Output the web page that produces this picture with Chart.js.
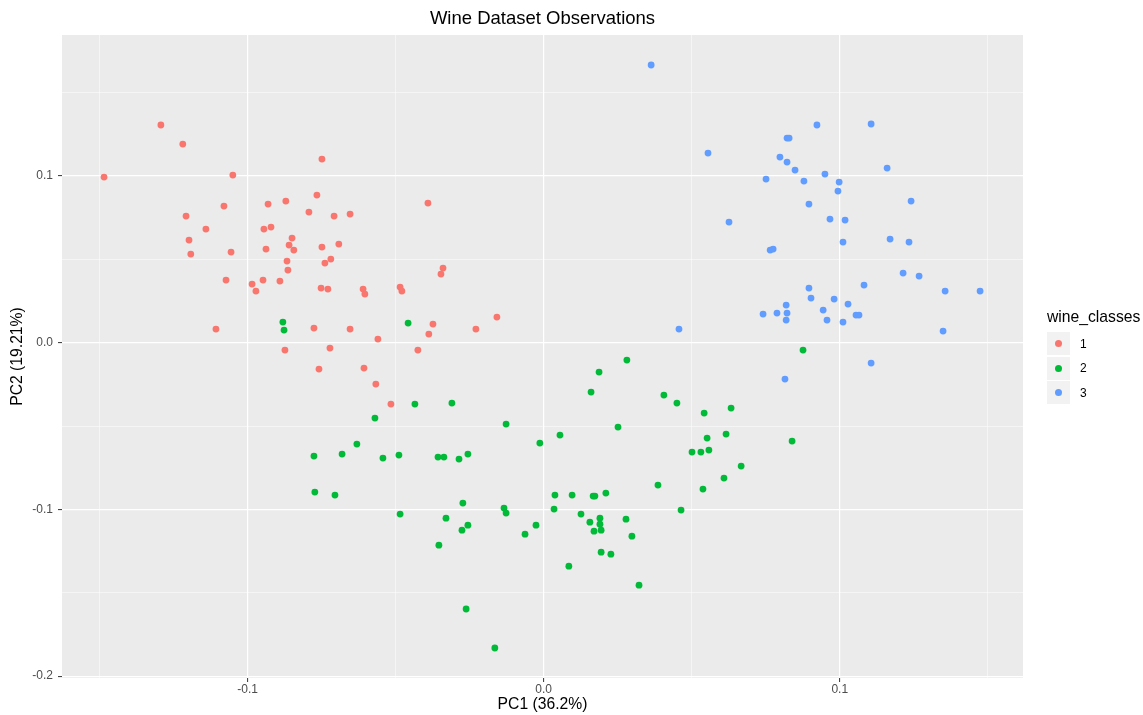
<!DOCTYPE html>
<html>
<head>
<meta charset="utf-8">
<script src="https://cdn.jsdelivr.net/npm/chart.js@4/dist/chart.umd.min.js"></script>
<style>
  body { margin: 0; background: #fff; font-family: "Liberation Sans", Arial, Helvetica, sans-serif; }
  #wrap { position: relative; width: 1143px; height: 715px; }
  #chart { position: absolute; left: 0; top: 0; }
  #title { position: absolute; left: 62px; width: 961px; top: 7px; height: 22px; line-height: 22px;
           text-align: center; font-size: 18.5px; color: #000; }
  #legend { position: absolute; left: 1047px; top: 306px; color: #000; }
  #legend .ttl { font-size: 15.7px; height: 22px; line-height: 22px; margin-bottom: 4px; }
  #legend .row { height: 23px; margin-bottom: 1.5px; display: flex; align-items: center; }
  #legend .key { width: 23px; height: 23px; background: #F2F2F2; position: relative; }
  #legend .dot { position: absolute; left: 8px; top: 8px; width: 7px; height: 7px; border-radius: 50%; }
  #legend .lab { font-size: 12px; margin-left: 10px; }
</style>
</head>
<body>
<div id="wrap">
  <canvas id="chart" width="1085" height="715"></canvas>
  <div id="title">Wine Dataset Observations</div>
  <div id="legend"></div>
</div>
<script>
// wine_classes 1, 2, 3 : PC1 / PC2 scores
let class1X = [-0.1485, -0.1293, -0.1219, -0.1208, -0.1198, -0.1192, -0.1141, -0.1080, -0.1050, -0.1056,
    -0.1107, -0.1073, -0.0985, -0.0972, -0.0948, -0.0945, -0.0931, -0.0921, -0.0938, -0.0891,
    -0.0871, -0.0867, -0.0864, -0.0860, -0.0850, -0.0844, -0.0874, -0.0793, -0.0766, -0.0749,
    -0.0749, -0.0739, -0.0719, -0.0708, -0.0692, -0.0654, -0.0752, -0.0729, -0.0776, -0.0654,
    -0.0722, -0.0759, -0.0610, -0.0604, -0.0607, -0.0560, -0.0567, -0.0516, -0.0485, -0.0479,
    -0.0391, -0.0340, -0.0347, -0.0374, -0.0388, -0.0425, -0.0229, -0.0158];
let class1Y = [0.0994, 0.1306, 0.1192, 0.0760, 0.0616, 0.0532, 0.0682, 0.0820, 0.1006, 0.0544,
    0.0082, 0.0376, 0.0352, 0.0310, 0.0376, 0.0682, 0.0832, 0.0694, 0.0562, 0.0370,
    0.0850, 0.0490, 0.0436, 0.0586, 0.0628, 0.0556, -0.0044, 0.0784, 0.0886, 0.1102,
    0.0574, 0.0478, 0.0502, 0.0760, 0.0592, 0.0772, 0.0328, 0.0322, 0.0088, 0.0082,
    -0.0032, -0.0158, 0.0322, 0.0292, -0.0152, 0.0022, -0.0248, -0.0368, 0.0334, 0.0310,
    0.0838, 0.0448, 0.0412, 0.0112, 0.0052, -0.0044, 0.0082, 0.0154];

let class2X = [-0.0881, -0.0877, -0.0458, -0.0435, -0.0310, -0.0570, -0.0127, -0.0631, -0.0776, -0.0681,
    -0.0543, -0.0489, -0.0357, -0.0337, -0.0286, -0.0256, -0.0773, -0.0705, -0.0273, -0.0485,
    -0.0330, -0.0256, -0.0276, -0.0134, -0.0127, -0.0354, -0.0262, -0.0165, 0.0281, 0.0187,
    0.0160, 0.0406, 0.0450, 0.0542, 0.0633, 0.0251, 0.0055, -0.0013, 0.0616, 0.0552,
    0.0501, 0.0531, 0.0558, 0.0667, 0.0609, 0.0386, 0.0538, 0.0038, 0.0096, 0.0167,
    0.0173, 0.0210, 0.0035, 0.0464, 0.0126, 0.0156, 0.0190, 0.0190, 0.0170, 0.0194,
    0.0278, 0.0298, -0.0026, -0.0063, 0.0194, 0.0227, 0.0085, 0.0322, 0.0876, 0.0839];
let class2Y = [0.0124, 0.0076, 0.0118, -0.0368, -0.0362, -0.0452, -0.0488, -0.0608, -0.0680, -0.0668,
    -0.0692, -0.0674, -0.0686, -0.0686, -0.0698, -0.0668, -0.0896, -0.0914, -0.0962, -0.1028,
    -0.1052, -0.1094, -0.1124, -0.0992, -0.1022, -0.1214, -0.1597, -0.1831, -0.0104, -0.0176,
    -0.0296, -0.0314, -0.0362, -0.0422, -0.0392, -0.0506, -0.0554, -0.0602, -0.0548, -0.0572,
    -0.0656, -0.0656, -0.0644, -0.0740, -0.0812, -0.0854, -0.0878, -0.0914, -0.0914, -0.0920,
    -0.0920, -0.0902, -0.0998, -0.1004, -0.1028, -0.1076, -0.1052, -0.1088, -0.1130, -0.1124,
    -0.1058, -0.1160, -0.1094, -0.1148, -0.1256, -0.1268, -0.1340, -0.1454, -0.0044, -0.0590];

let class3X = [0.0363, 0.0555, 0.0626, 0.0457, 0.0923, 0.1106, 0.0822, 0.0829, 0.0798, 0.0822,
    0.0849, 0.0751, 0.0879, 0.0950, 0.0998, 0.0994, 0.1160, 0.0896, 0.0967, 0.1018,
    0.1241, 0.1011, 0.1170, 0.1234, 0.0765, 0.0775, 0.1214, 0.1268, 0.1082, 0.1356,
    0.1474, 0.0896, 0.0903, 0.0981, 0.1028, 0.0819, 0.0741, 0.0788, 0.0822, 0.0819,
    0.0944, 0.0957, 0.1011, 0.1055, 0.1065, 0.1349, 0.1106, 0.0815];
let class3Y = [0.1666, 0.1138, 0.0724, 0.0082, 0.1306, 0.1312, 0.1228, 0.1228, 0.1114, 0.1084,
    0.1036, 0.0982, 0.0970, 0.1012, 0.0964, 0.0910, 0.1048, 0.0832, 0.0742, 0.0736,
    0.0850, 0.0604, 0.0622, 0.0604, 0.0556, 0.0562, 0.0418, 0.0400, 0.0346, 0.0310,
    0.0310, 0.0328, 0.0268, 0.0262, 0.0232, 0.0226, 0.0172, 0.0178, 0.0178, 0.0136,
    0.0196, 0.0136, 0.0124, 0.0166, 0.0166, 0.0070, -0.0122, -0.0218];

let classNames = ['1', '2', '3'];
let classColors = ['#F8766D', '#00BA38', '#619CFF'];
let xTicks = [-0.15, -0.1, -0.05, 0, 0.05, 0.1, 0.15];
let yTicks = [-0.2, -0.15, -0.1, -0.05, 0, 0.05, 0.1, 0.15];

const FONT = '"Liberation Sans", Arial, Helvetica, sans-serif';

function pts(xs, ys) {
    return xs.map((x, i) => ({ x: x, y: ys[i] }));
}

function isMajor(v) {
    return Math.abs(v * 10 - Math.round(v * 10)) < 1e-6;
}

const panelBg = {
    id: 'panelBg',
    beforeDraw(chart) {
        const a = chart.chartArea;
        const ctx = chart.ctx;
        ctx.save();
        ctx.fillStyle = '#EBEBEB';
        ctx.fillRect(a.left, a.top, a.right - a.left, a.bottom - a.top);
        ctx.restore();
    }
};

function axis(ticks, min, max, title, titlePad) {
    return {
        type: 'linear',
        min: min,
        max: max,
        afterBuildTicks: (s) => { s.ticks = ticks.map(v => ({ value: v })); },
        grid: {
            color: '#FFFFFF',
            lineWidth: (c) => isMajor(c.tick.value) ? 1.2 : 0.5,
            drawTicks: true,
            tickLength: 4,
            tickWidth: 1,
            tickColor: (c) => isMajor(c.tick.value) ? '#333333' : 'rgba(0,0,0,0)'
        },
        border: { display: false },
        ticks: {
            color: '#4D4D4D',
            font: { family: FONT, size: 12 },
            padding: 0,
            autoSkip: false,
            maxRotation: 0,
            callback: (v) => isMajor(v) ? v.toFixed(1) : ''
        },
        title: {
            display: true,
            text: title,
            color: '#000000',
            font: { family: FONT, size: 15.7 },
            padding: titlePad
        }
    };
}

let xAxis = axis(xTicks, -0.1627, 0.1619, 'PC1 (36.2%)', { top: 0, bottom: 0.5 });
xAxis.afterFit = (s) => { s.height = 37; };
let yAxis = axis(yTicks, -0.2011, 0.1846, 'PC2 (19.21%)', { top: 8.5, bottom: 0 });
yAxis.afterFit = (s) => { s.width = 62; };
yAxis.ticks.padding = 5;

let chart = new Chart(document.getElementById('chart'), {
    type: 'scatter',
    data: {
        datasets: [
            { label: classNames[0], data: pts(class1X, class1Y), backgroundColor: classColors[0], order: 3 },
            { label: classNames[1], data: pts(class2X, class2Y), backgroundColor: classColors[1], order: 2 },
            { label: classNames[2], data: pts(class3X, class3Y), backgroundColor: classColors[2], order: 1 }
        ]
    },
    options: {
        responsive: false,
        animation: false,
        layout: { padding: { left: 0, right: 62, top: 35, bottom: 0 } },
        elements: { point: { radius: 3.4, borderWidth: 0, hoverRadius: 3.4 } },
        plugins: {
            legend: { display: false },
            tooltip: { enabled: false },
            title: { display: false }
        },
        scales: { x: xAxis, y: yAxis }
    },
    plugins: [panelBg]
});

// legend on the right, as in ggplot
let lg = document.getElementById('legend');
let html = '<div class="ttl">wine_classes</div>';
for (let i = 0; i < classNames.length; i++) {
    html += '<div class="row"><div class="key"><div class="dot" style="background:' + classColors[i] +
        '"></div></div><div class="lab">' + classNames[i] + '</div></div>';
}
lg.innerHTML = html;
</script>
</body>
</html>
